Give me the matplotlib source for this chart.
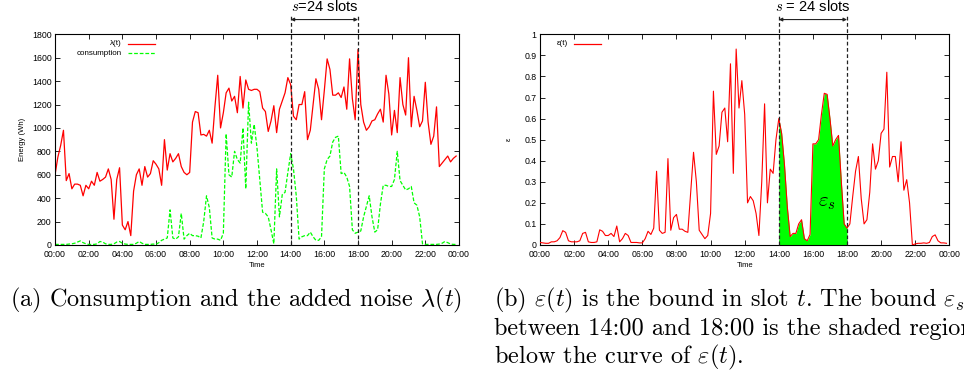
import numpy as np
import matplotlib
matplotlib.use("Agg")
import matplotlib.pyplot as plt
from matplotlib.lines import Line2D

plt.rcParams['font.family'] = ['Liberation Sans', 'DejaVu Sans']
plt.rcParams['mathtext.fontset'] = 'cm'

# 10-minute slots over one day
n_slots = 144
slot_hours = np.arange(n_slots) / 6.0

# lambda(t): consumption plus added noise (Wh)
noisy = [600, 750, 850, 980, 550, 610, 480, 520, 520, 510, 420, 510,
         480, 545, 510, 620, 545, 560, 580, 650, 560, 220, 560, 660,
         170, 130, 200, 80, 460, 600, 650, 510, 670, 580, 610, 720,
         690, 650, 510, 900, 640, 780, 710, 740, 780, 670, 620, 600,
         620, 1050, 1140, 1130, 940, 945, 930, 980, 870, 1180, 1450, 1000,
         1130, 1300, 1340, 1230, 1270, 1130, 1440, 1170, 1410, 1330, 1320, 1330,
         1330, 1310, 1170, 1140, 970, 1060, 1190, 960, 1160, 1230, 1300, 1430,
         1370, 1100, 1070, 1200, 1200, 1310, 900, 980, 1200, 1420, 1330, 1070,
         1320, 1590, 1500, 1280, 1280, 1300, 1260, 1350, 1160, 1590, 1250, 1070,
         1670, 1200, 1050, 980, 1010, 1060, 1070, 1120, 1160, 1050, 1450, 1290,
         940, 1150, 960, 1430, 1200, 1110, 1600, 1010, 1270, 1150, 1010, 1060,
         1390, 1050, 860, 930, 1180, 670, 700, 730, 760, 710, 740, 760]

# household consumption (Wh)
consumption = [5, 5, 5, 5, 5, 8, 10, 15, 25, 35, 20, 10,
               5, 5, 5, 10, 30, 25, 10, 5, 5, 10, 25, 30,
               15, 8, 5, 5, 5, 15, 30, 15, 5, 5, 5, 8,
               5, 20, 40, 50, 60, 300, 60, 50, 70, 270, 50, 80,
               100, 80, 80, 75, 60, 200, 420, 320, 60, 50, 50, 40,
               100, 950, 600, 580, 800, 730, 700, 1000, 480, 1220, 870, 1030,
               830, 550, 280, 270, 240, 130, 10, 650, 240, 430, 450, 620,
               780, 650, 420, 50, 70, 80, 80, 110, 70, 40, 40, 70,
               650, 730, 760, 880, 920, 930, 610, 620, 580, 500, 130, 100,
               110, 120, 240, 330, 420, 240, 110, 130, 350, 510, 510, 500,
               500, 560, 800, 550, 510, 470, 480, 500, 360, 340, 240, 10,
               5, 5, 5, 5, 5, 8, 15, 30, 20, 8, 5, 5]

# epsilon(t): per-slot bound
eps = [0.012, 0.01, 0.008, 0.008, 0.015, 0.015, 0.02, 0.035, 0.068, 0.06, 0.02, 0.015,
       0.015, 0.015, 0.02, 0.055, 0.06, 0.015, 0.012, 0.012, 0.015, 0.072, 0.065, 0.045,
       0.045, 0.055, 0.04, 0.09, 0.015, 0.03, 0.055, 0.045, 0.012, 0.012, 0.012, 0.01,
       0.01, 0.03, 0.065, 0.05, 0.08, 0.35, 0.07, 0.055, 0.06, 0.41, 0.07, 0.13,
       0.145, 0.075, 0.075, 0.065, 0.06, 0.25, 0.44, 0.3, 0.07, 0.05, 0.03, 0.045,
       0.15, 0.73, 0.43, 0.47, 0.63, 0.65, 0.49, 0.86, 0.34, 0.93, 0.65, 0.78,
       0.62, 0.2, 0.23, 0.21, 0.15, 0.045, 0.3, 0.67, 0.2, 0.36, 0.34, 0.5,
       0.6, 0.53, 0.38, 0.18, 0.04, 0.055, 0.055, 0.1, 0.12, 0.03, 0.02, 0.05,
       0.48, 0.48, 0.5, 0.62, 0.72, 0.715, 0.6, 0.47, 0.5, 0.52, 0.3, 0.1,
       0.08, 0.1, 0.23, 0.35, 0.42, 0.22, 0.1, 0.12, 0.25, 0.48, 0.36, 0.4,
       0.53, 0.55, 0.82, 0.37, 0.42, 0.42, 0.3, 0.49, 0.26, 0.31, 0.2, 0.0,
       0.005, 0.008, 0.008, 0.01, 0.008, 0.012, 0.04, 0.048, 0.02, 0.01, 0.01, 0.008]

window_start, window_end = 14, 18
tick_hours = list(range(0, 25, 2))
tick_labels = ["%02d:00" % (h % 24) for h in tick_hours]

RED = "#ff0000"
GREEN = "#00ff00"
tick_fs = 6.3

fig = plt.figure(figsize=(9.64, 3.79), dpi=100)
ax1 = fig.add_axes([0.0571, 0.3536, 0.4190, 0.5559])
ax2 = fig.add_axes([0.5602, 0.3536, 0.4246, 0.5559])


def style_axes(ax):
    ax.set_xlim(0, 24)
    ax.set_xticks(tick_hours)
    ax.set_xticklabels(tick_labels)
    ax.tick_params(direction="in", top=True, right=True, length=3.5, width=0.6,
                   labelsize=tick_fs)
    ax.tick_params(axis="x", pad=3.5)
    ax.tick_params(axis="y", pad=2.5)
    for sp in ax.spines.values():
        sp.set_linewidth(0.8)
    ax.set_xlabel("Time", fontsize=5.5, labelpad=2)


def window_marks(ax, label):
    tr = ax.get_xaxis_transform()
    for h in (window_start, window_end):
        ax.plot([h, h], [0, 1.085], transform=tr, color="#222222", lw=0.9,
                ls=(0, (3, 2)), clip_on=False, zorder=5)
    ax.annotate("", xy=(window_start, 1.07), xytext=(window_end, 1.07),
                xycoords=tr, textcoords=tr,
                arrowprops=dict(arrowstyle="<|-|>", color="#222222", lw=0.8,
                                mutation_scale=5, shrinkA=0, shrinkB=0))
    ax.text((window_start + window_end) / 2, 1.13, label, transform=tr,
            ha="center", va="center", fontsize=10.5)


def legend_entry(ax, x_text, y, text, color, ls):
    ax.text(x_text, y, text, transform=ax.transAxes, ha="right", va="center",
            fontsize=5.8)
    ax.add_line(Line2D([x_text + 0.015, x_text + 0.082], [y, y],
                       transform=ax.transAxes, color=color, lw=0.9, ls=ls))


# (a) noisy load and consumption
style_axes(ax1)
ax1.plot(slot_hours, noisy, color=RED, lw=0.9)
ax1.plot(slot_hours, consumption, color=GREEN, lw=0.9, ls=(0, (3, 1.5)))
ax1.set_ylim(0, 1800)
ax1.set_yticks(range(0, 1801, 200))
ax1.set_ylabel("Energy (Wh)", fontsize=5.5, labelpad=4)
legend_entry(ax1, 0.166, 0.955, r"λ(t)", RED, "-")
legend_entry(ax1, 0.166, 0.91, "consumption", GREEN, (0, (3, 1.5)))
window_marks(ax1, r"$s$=24 slots")

# (b) per-slot bound with the window area shaded
style_axes(ax2)
eps_arr = np.array(eps)
in_window = (slot_hours >= window_start) & (slot_hours <= window_end)
ax2.fill_between(slot_hours, 0, eps_arr, where=in_window, color=GREEN, lw=0,
                 zorder=2)
ax2.plot(slot_hours, eps_arr, color=RED, lw=0.8, zorder=3)
ax2.set_ylim(0, 1)
ax2.set_yticks(np.arange(0, 1.01, 0.1))
ax2.set_yticklabels(["0"] + ["%.1f" % v for v in np.arange(0.1, 0.95, 0.1)] + ["1"])
ax2.set_ylabel("ε", fontsize=5.5, labelpad=8)
legend_entry(ax2, 0.068, 0.955, "ε(t)", RED, "-")
window_marks(ax2, r"$s$ = 24 slots")
ax2.text(16.85, 0.2, r"$\varepsilon_s$", fontsize=15, ha="center", va="center",
         zorder=6)

# captions
cap = dict(fontsize=17.5, family="cmr10", va="center", ha="left")
fig.text(0.010, 0.208, r"(a) Consumption and the added noise $\lambda(t)$", **cap)
fig.text(0.512, 0.208,
         r"(b) $\varepsilon(t)$ is the bound in slot $t$. The bound $\varepsilon_s$", **cap)
fig.text(0.512, 0.132, "between 14:00 and 18:00 is the shaded region", **cap)
fig.text(0.512, 0.058, r"below the curve of $\varepsilon(t)$.", **cap)

fig.savefig("out.png", dpi=100)
